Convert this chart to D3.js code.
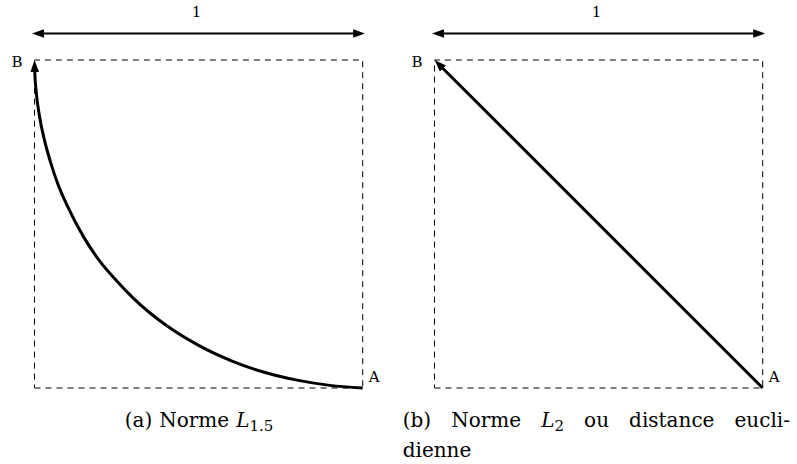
<!DOCTYPE html>
<html>
<head>
<meta charset="utf-8">
<script src="https://cdn.jsdelivr.net/npm/d3@7"></script>
<style>
  html, body { margin: 0; padding: 0; background: #fff; }
  svg { display: block; }
  text { font-family: "DejaVu Serif", "Liberation Serif", serif; fill: #000; }
</style>
</head>
<body>
<svg id="chart" width="797" height="464"></svg>
<script>
// ---- data (unit-square coordinates) ----
const panels = ["a", "b"];
// path of the L1.5 panel, from A (1,0) to B (0,1)
const curveX = [1, 0.9, 0.8, 0.7, 0.6, 0.5, 0.4, 0.3, 0.25, 0.2, 0.15, 0.1, 0.07, 0.05, 0.03, 0.015, 0.005, 0.001, 0];
const curveY = [0, 0.008, 0.024, 0.048, 0.083, 0.13, 0.192, 0.275, 0.327, 0.385, 0.46, 0.555, 0.625, 0.685, 0.757, 0.83, 0.905, 0.96, 1];
// path of the L2 panel, from A to B
const lineX = [1, 0];
const lineY = [0, 1];
const squareX = [0, 1, 1, 0, 0];
const squareY = [0, 0, 1, 1, 0];
const widthLabel = "1";
const pointNames = ["A", "B"];
const pointX = [1, 0];
const pointY = [0, 1];
const captionA = [{t: "(a)"}, {t: "Norme"}, {t: "L", sub: "1.5"}];
const captionB1 = [{t: "(b)"}, {t: "Norme"}, {t: "L", sub: "2"}, {t: "ou"}, {t: "distance"}, {t: "eucli-"}];
const captionB2 = "dienne";

// ---- drawing ----
const svg = d3.select("#chart");
const defs = svg.append("defs");
defs.append("marker")
  .attr("id", "arrow")
  .attr("viewBox", "0 -5 12 10")
  .attr("markerWidth", 12).attr("markerHeight", 10)
  .attr("refX", 12).attr("refY", 0)
  .attr("markerUnits", "userSpaceOnUse")
  .attr("orient", "auto-start-reverse")
  .append("path").attr("d", "M0,-4.3L12,0L0,4.3Z").attr("fill", "#000");

function trim(path, s, e) {
  const L = path.node().getTotalLength();
  path.attr("stroke-dasharray", `0 ${s} ${L - s - e} ${L}`);
}

const offsets = [0, 400];
panels.forEach((p, i) => {
  const off = offsets[i];
  const x = d3.scaleLinear().domain([0, 1]).range([34.5 + off, 362.7 + off]);
  const y = d3.scaleLinear().domain([0, 1]).range([388, 60]);
  const g = svg.append("g");

  // dashed square
  g.append("path")
    .attr("d", d3.line().x(d => x(d[0])).y(d => y(d[1]))(squareX.map((v, k) => [v, squareY[k]])))
    .attr("fill", "none").attr("stroke", "#000").attr("stroke-width", 1)
    .attr("stroke-dasharray", "6,5");

  // width arrow
  const ta = g.append("path")
    .attr("d", d3.line()([[x(0) - 2.5, 33.5], [x(1) + 2.5, 33.5]]))
    .attr("fill", "none").attr("stroke", "#000").attr("stroke-width", 2)
    .attr("marker-start", "url(#arrow)").attr("marker-end", "url(#arrow)");
  trim(ta, 6, 6);
  g.append("text").attr("x", (x(0) + x(1)) / 2 - 2).attr("y", 17)
    .attr("text-anchor", "middle").attr("font-size", 15).text(widthLabel);

  // path A -> B
  const xs = i === 0 ? curveX : lineX;
  const ys = i === 0 ? curveY : lineY;
  const pth = g.append("path")
    .attr("d", d3.line().x(d => x(d[0])).y(d => y(d[1]))
      .curve(d3.curveMonotoneX)(xs.map((v, k) => [v, ys[k]]).reverse()))
    .attr("fill", "none").attr("stroke", "#000").attr("stroke-width", 3)
    .attr("marker-start", "url(#arrow)");
  trim(pth, 7, 0);

  // point labels
  pointNames.forEach((n, k) => {
    const isA = n === "A";
    g.append("text")
      .attr("x", isA ? x(pointX[k]) + 6 : x(pointX[k]) - 12)
      .attr("y", isA ? y(pointY[k]) - 6 : y(pointY[k]) + 7)
      .attr("text-anchor", isA ? "start" : "end")
      .attr("font-size", 15).text(n);
  });
});

function word(parent, w, xpos, ypos) {
  const t = parent.append("text").attr("x", xpos).attr("y", ypos).attr("font-size", 20);
  if (w.sub) {
    t.append("tspan").attr("font-style", "italic").text(w.t);
    t.append("tspan").attr("dy", 4).attr("font-size", 15).text(w.sub);
  } else {
    t.text(w.t);
  }
  return t;
}

// caption (a), centred under panel a
{
  const g = svg.append("g");
  const nodes = captionA.map(w => word(g, w, 0, 427));
  const widths = nodes.map(n => n.node().getComputedTextLength());
  const gap = 7;
  const total = d3.sum(widths) + gap * (widths.length - 1);
  let cx = 199 - total / 2;
  nodes.forEach((n, k) => { n.attr("x", cx); cx += widths[k] + gap; });
}
// caption (b), justified first line
{
  const g = svg.append("g");
  const left = 402.7, right = 790;
  const nodes = captionB1.map(w => word(g, w, 0, 427));
  const widths = nodes.map(n => n.node().getComputedTextLength());
  const gap = (right - left - d3.sum(widths)) / (widths.length - 1);
  let cx = left;
  nodes.forEach((n, k) => { n.attr("x", cx); cx += widths[k] + gap; });
  word(g, {t: captionB2}, left, 457);
}
</script>
</body>
</html>
